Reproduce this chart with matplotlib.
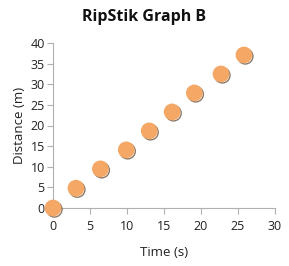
import matplotlib
matplotlib.use('Agg')
import matplotlib.pyplot as plt
import matplotlib.patheffects as pe

# data
time_s = [0, 3.1, 6.4, 9.9, 13.0, 16.1, 19.1, 22.7, 25.8]
distance_m = [0, 4.8, 9.5, 14.1, 18.7, 23.3, 27.9, 32.5, 37.1]
xticks = [0, 5, 10, 15, 20, 25, 30]
yticks = [0, 5, 10, 15, 20, 25, 30, 35, 40]

plt.rcParams['font.family'] = ['Open Sans', 'DejaVu Sans']

fig = plt.figure(figsize=(2.89, 2.66), dpi=100)
ax = fig.add_axes([53/289, 1-208/266, 222/289, 165/266])

ax.plot(time_s, distance_m, 'o', ms=11, color='#f5a865', mec='#f5a865',
        clip_on=False, zorder=5,
        path_effects=[pe.SimpleLineShadow(offset=(1.0, -1.0), shadow_color='#5a4028', alpha=0.7),
                      pe.Normal()])

ax.set_xlim(0, 30)
ax.set_ylim(0, 40)
ax.set_xticks(xticks)
ax.set_yticks(yticks)
for s in ['top', 'right']:
    ax.spines[s].set_visible(False)
for s in ['left', 'bottom']:
    ax.spines[s].set_color('#b0b0b0')
    ax.spines[s].set_linewidth(0.8)
ax.tick_params(colors='#b0b0b0', labelcolor='#222222', labelsize=9, length=4, width=0.8, pad=2)
ax.tick_params(axis='x', pad=5)

ax.set_xlabel('Time (s)', fontsize=9.5, color='#222222', labelpad=9)
ax.set_ylabel('Distance (m)', fontsize=9.5, color='#222222', labelpad=3)
fig.text(0.5, 1-17/266, 'RipStik Graph B', ha='center', va='center',
         fontsize=11.5, fontweight='bold', color='#111111')

fig.savefig('out.png', dpi=100)
